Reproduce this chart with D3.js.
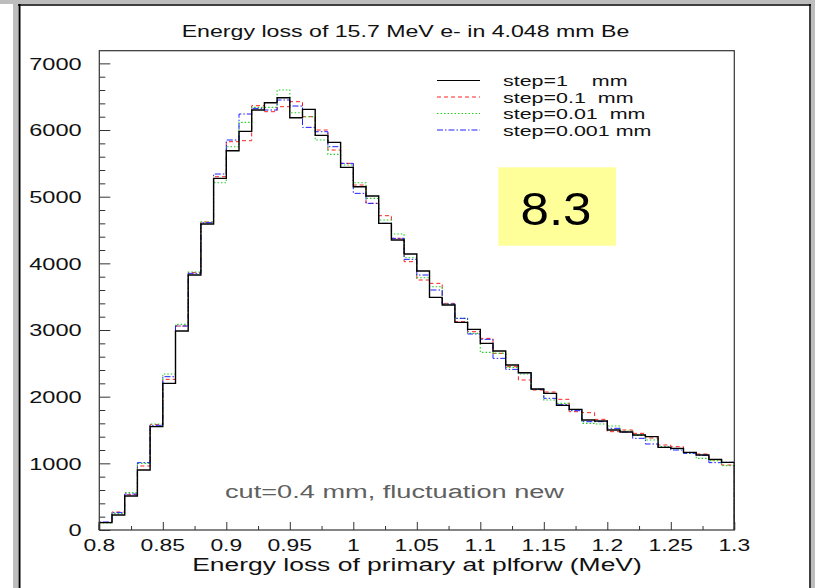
<!DOCTYPE html>
<html>
<head>
<meta charset="utf-8">
<script src="https://cdn.jsdelivr.net/npm/d3@7"></script>
<style>
  html, body { margin: 0; padding: 0; background: #ffffff; }
  svg { display: block; }
  text { font-family: "Liberation Sans", Arial, Helvetica, sans-serif; }
</style>
</head>
<body>
<svg id="chart" width="815" height="588"></svg>
<script>
// ---------------- data ----------------
const titleText = "Energy loss of 15.7 MeV e- in 4.048 mm Be";
const xAxisTitle = "Energy loss of primary at plforw (MeV)";
const noteText = "cut=0.4 mm, fluctuation new";
const badgeText = "8.3";

const binLow = [0.80,0.81,0.82,0.83,0.84,0.85,0.86,0.87,0.88,0.89,
                0.90,0.91,0.92,0.93,0.94,0.95,0.96,0.97,0.98,0.99,
                1.00,1.01,1.02,1.03,1.04,1.05,1.06,1.07,1.08,1.09,
                1.10,1.11,1.12,1.13,1.14,1.15,1.16,1.17,1.18,1.19,
                1.20,1.21,1.22,1.23,1.24,1.25,1.26,1.27,1.28,1.29];
const binWidth = 0.01;

const step1 = [110,225,510,900,1550,2200,2985,3825,4590,5275,
               5690,5980,6300,6410,6485,6185,6310,5920,5815,5440,
               5150,5010,4600,4350,4140,3885,3490,3375,3115,3010,
               2800,2685,2475,2360,2115,2050,1870,1810,1650,1635,
               1500,1470,1425,1400,1240,1225,1165,1125,1060,1015];
const step01 = [115,270,530,960,1580,2260,3060,3860,4620,5300,
                5825,5840,6365,6275,6350,6425,6200,6000,5700,5500,
                5175,4900,4715,4375,4025,3750,3700,3400,3125,2975,
                2875,2650,2450,2250,2100,2070,1960,1775,1760,1660,
                1475,1500,1450,1380,1275,1250,1160,1140,1050,975];
const step001 = [105,250,560,1000,1590,2340,3085,3870,4620,5210,
                 5750,6115,6340,6340,6600,6260,6200,5850,5635,5475,
                 5210,4975,4650,4440,4085,3785,3650,3390,3175,2950,
                 2665,2650,2440,2340,2110,1950,1900,1800,1600,1590,
                 1560,1485,1420,1350,1250,1215,1150,1075,1040,965];
const step0001 = [120,260,540,1010,1570,2300,3060,3850,4610,5340,
                  5850,6240,6325,6300,6450,6360,6040,5975,5750,5500,
                  5050,4900,4600,4375,4060,3825,3600,3390,3175,2940,
                  2860,2575,2410,2360,2110,1975,1880,1790,1625,1625,
                  1525,1470,1375,1290,1240,1200,1150,1120,1010,1015];

const seriesNames = ["step=1    mm", "step=0.1  mm", "step=0.01  mm", "step=0.001 mm"];
const seriesColors = ["#000000", "#ff2020", "#20d020", "#2020ff"];
const seriesDash = [null, "4,3", "1.5,2", "6,2,1.5,2"];
const seriesWidth = [1.4, 1, 1.1, 1];

const xTickValues = [0.8,0.85,0.9,0.95,1,1.05,1.1,1.15,1.2,1.25,1.3];
const xTickLabels = ["0.8","0.85","0.9","0.95","1","1.05","1.1","1.15","1.2","1.25","1.3"];
const xMinorTicks = [0.825,0.875,0.925,0.975,1.025,1.075,1.125,1.175,1.225,1.275];
const yTickValues = [0,1000,2000,3000,4000,5000,6000,7000];
const yTickLabels = ["0","1000","2000","3000","4000","5000","6000","7000"];

// ---------------- layout ----------------
const SX = 1.43; // horizontal stretch of the reference text
const svg = d3.select("#chart");
const pLeft = 99.3, pRight = 734.3, pBottom = 530, pTop = 50.7;
const x = d3.scaleLinear().domain([0.8, 1.3]).range([pLeft, pRight]);
const y = d3.scaleLinear().domain([0, 7190]).range([pBottom, pTop]);

function stext(g, str, px, py, size, anchor, opts = {}) {
  const sx = opts.sx || SX;
  return g.append("text")
    .attr("transform", `translate(${px},${py}) scale(${sx},1)`)
    .attr("text-anchor", anchor)
    .attr("font-size", size)
    .attr("fill", opts.fill || "#111")
    .style("white-space", "pre")
    .text(str);
}

// page frame (screenshot border)
svg.append("rect").attr("x", 0).attr("y", 0).attr("width", 815).attr("height", 588).attr("fill", "#fff");
svg.append("rect").attr("x", 13).attr("y", 0).attr("width", 5).attr("height", 588).attr("fill", "#bdbdbd");
svg.append("rect").attr("x", 0).attr("y", 0).attr("width", 815).attr("height", 4).attr("fill", "#bdbdbd");
svg.append("rect").attr("x", 811).attr("y", 0).attr("width", 4).attr("height", 588).attr("fill", "#bdbdbd");
svg.append("line").attr("x1", 19.5).attr("x2", 19.5).attr("y1", 4).attr("y2", 588).attr("stroke", "#000").attr("stroke-width", 2);
svg.append("line").attr("x1", 18).attr("x2", 811).attr("y1", 5).attr("y2", 5).attr("stroke", "#000").attr("stroke-width", 1.5);
svg.append("line").attr("x1", 810).attr("x2", 810).attr("y1", 4).attr("y2", 588).attr("stroke", "#000").attr("stroke-width", 1.5);

// title
stext(svg, titleText, 405.5, 37, 16.2, "middle");

// histogram lines
const line = d3.line().x(d => d[0]).y(d => d[1]);
function stepPoints(vals) {
  const pts = [[x(binLow[0]), y(0)]];
  vals.forEach((v, i) => {
    pts.push([x(binLow[i]), y(v)]);
    pts.push([x(binLow[i] + binWidth), y(v)]);
  });
  pts.push([x(binLow[binLow.length - 1] + binWidth), y(0)]);
  return pts;
}
const allSeries = [step1, step01, step001, step0001];
const drawOrder = [1, 2, 3, 0];
drawOrder.forEach(k => {
  svg.append("path")
    .attr("d", line(stepPoints(allSeries[k])))
    .attr("fill", "none")
    .attr("stroke", seriesColors[k])
    .attr("stroke-width", seriesWidth[k])
    .attr("stroke-dasharray", seriesDash[k]);
});

// plot box
svg.append("rect").attr("x", pLeft).attr("y", pTop).attr("width", pRight - pLeft).attr("height", pBottom - pTop)
  .attr("fill", "none").attr("stroke", "#333").attr("stroke-width", 1.2);

// x axis ticks (inside)
const xAxis = d3.axisBottom(x).tickValues(xTickValues).tickSize(-8).tickFormat("");
const gx = svg.append("g").attr("transform", `translate(0,${pBottom})`).call(xAxis);
gx.select(".domain").remove();
gx.selectAll(".tick line").attr("stroke", "#333");
const xMinor = d3.axisBottom(x).tickValues(xMinorTicks).tickSize(-4).tickFormat("");
const gxm = svg.append("g").attr("transform", `translate(0,${pBottom})`).call(xMinor);
gxm.select(".domain").remove();
gxm.selectAll(".tick line").attr("stroke", "#333");
xTickValues.forEach((v, i) => stext(svg, xTickLabels[i], x(v), 550.5, 16, "middle"));

// y axis ticks (inside)
const yMinorVals = d3.range(0, 7200, 200).filter(v => v % 1000 !== 0);
const yAxis = d3.axisLeft(y).tickValues(yTickValues).tickSize(-11).tickFormat("");
const gy = svg.append("g").attr("transform", `translate(${pLeft},0)`).call(yAxis);
gy.select(".domain").remove();
gy.selectAll(".tick line").attr("stroke", "#333");
const yMinor = d3.axisLeft(y).tickValues(yMinorVals).tickSize(-6).tickFormat("");
const gym = svg.append("g").attr("transform", `translate(${pLeft},0)`).call(yMinor);
gym.select(".domain").remove();
gym.selectAll(".tick line").attr("stroke", "#333");
yTickValues.forEach((v, i) => stext(svg, yTickLabels[i], 81.7, y(v) + 6.3, 16.5, "end"));

// x axis title
stext(svg, xAxisTitle, 417, 570.5, 18.5, "middle");

// legend
const legY = [80.5, 97, 113.5, 130];
seriesNames.forEach((name, k) => {
  svg.append("line")
    .attr("x1", 437).attr("x2", 480)
    .attr("y1", legY[k]).attr("y2", legY[k])
    .attr("stroke", seriesColors[k])
    .attr("stroke-width", 1)
    .attr("stroke-dasharray", seriesDash[k]);
  stext(svg, name, 503, legY[k] + 5.5, 15, "start");
});

// note
stext(svg, noteText, 394.5, 498, 19, "middle", { fill: "#606060" });

// badge
svg.append("rect").attr("x", 498.3).attr("y", 167.3).attr("width", 117.7).attr("height", 78.4).attr("fill", "#ffff99");
stext(svg, badgeText, 556, 225, 46, "middle", { sx: 1.11, fill: "#000" });
</script>
</body>
</html>
